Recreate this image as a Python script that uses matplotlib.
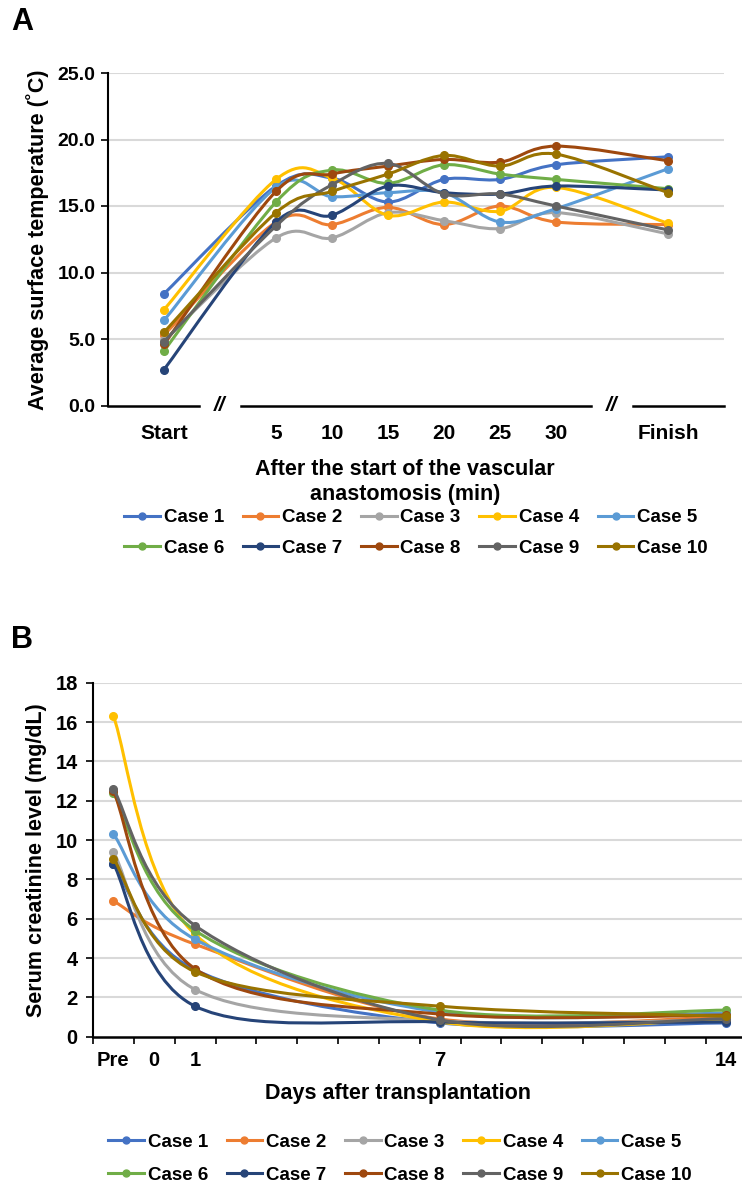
import numpy as np
import matplotlib
matplotlib.use('Agg')
import matplotlib.pyplot as plt
from matplotlib.path import Path
from matplotlib.patches import PathPatch
from matplotlib.lines import Line2D

plt.rcParams['font.family'] = ['Liberation Sans', 'DejaVu Sans']
plt.rcParams['font.weight'] = 'bold'
plt.rcParams['axes.labelweight'] = 'bold'

# --- DATA ---
cases = ['Case 1', 'Case 2', 'Case 3', 'Case 4', 'Case 5',
         'Case 6', 'Case 7', 'Case 8', 'Case 9', 'Case 10']
colors = ['#4472C4', '#ED7D31', '#A5A5A5', '#FFC000', '#5B9BD5',
          '#70AD47', '#264478', '#9E480E', '#636363', '#997300']

# panel A: categories on the x axis ('//' = axis break)
cats_a = ['Start', '//', '5', '10', '15', '20', '25', '30', '//', 'Finish']
times_a = ['Start', '5', '10', '15', '20', '25', '30', 'Finish']
temp = [
    [8.4, 16.5, 17.1, 15.3, 17.0, 17.0, 18.1, 18.7],   # case 1
    [5.3, 13.8, 13.6, 14.9, 13.6, 15.0, 13.8, 13.6],   # case 2
    [4.9, 12.6, 12.6, 14.5, 13.9, 13.3, 14.5, 12.9],   # case 3
    [7.2, 17.0, 17.1, 14.3, 15.3, 14.6, 16.4, 13.7],   # case 4
    [6.4, 16.4, 15.7, 16.0, 16.0, 13.8, 14.8, 17.8],   # case 5
    [4.1, 15.3, 17.7, 16.7, 18.1, 17.4, 17.0, 16.3],   # case 6
    [2.7, 13.8, 14.3, 16.5, 16.0, 15.9, 16.5, 16.2],   # case 7
    [4.6, 16.1, 17.4, 18.0, 18.5, 18.3, 19.5, 18.4],   # case 8
    [4.8, 13.5, 16.6, 18.2, 15.9, 15.9, 15.0, 13.2],   # case 9
    [5.5, 14.5, 16.1, 17.4, 18.8, 18.0, 18.9, 16.0],   # case 10
]

# panel B: days after transplantation
cats_b = ['Pre', '0', '1', '2', '3', '4', '5', '6', '7',
          '8', '9', '10', '11', '12', '13', '14']
labels_b = ['Pre', '0', '1', '', '', '', '', '', '7',
            '', '', '', '', '', '', '14']
days_b = ['Pre', '1', '7', '14']
creat = [
    [8.8, 3.4, 0.7, 0.7],    # case 1
    [6.9, 4.7, 0.9, 1.0],    # case 2
    [9.4, 2.4, 0.8, 0.85],   # case 3
    [16.3, 5.2, 0.75, 0.9],  # case 4
    [10.3, 4.95, 1.25, 1.2], # case 5
    [12.4, 5.4, 1.35, 1.35], # case 6
    [8.8, 1.55, 0.75, 0.75], # case 7
    [12.5, 3.45, 1.15, 1.1], # case 8
    [12.6, 5.65, 0.85, 0.92],# case 9
    [9.05, 3.3, 1.55, 1.05], # case 10
]

W, H = 742, 1195
fig = plt.figure(figsize=(W / 100, H / 100), dpi=100)


def smooth_path(xs, ys):
    # excel-style smoothed line (bezier through the points)
    pts = np.column_stack([xs, ys]).astype(float)
    n = len(pts)
    verts = [pts[0]]
    codes = [Path.MOVETO]
    for i in range(n - 1):
        p0 = pts[i - 1] if i > 0 else pts[i]
        p1, p2 = pts[i], pts[i + 1]
        p3 = pts[i + 2] if i + 2 < n else pts[i + 1]
        verts += [p1 + (p2 - p0) / 6, p2 - (p3 - p1) / 6, p2]
        codes += [Path.CURVE4] * 3
    return Path(verts, codes)


def draw_series(ax, xs, ys, color, z):
    ax.add_patch(PathPatch(smooth_path(xs, ys), fill=False, lw=2.2,
                           edgecolor=color, zorder=z, capstyle='round'))
    ax.plot(xs, ys, 'o', ms=5.5, color=color, zorder=z + 0.5)


def add_legend(ax, cx, cy, spacing):
    handles = [Line2D([], [], color=c, lw=2.2, marker='o', ms=5) for c in colors]
    order = [0, 5, 1, 6, 2, 7, 3, 8, 4, 9]
    ax.legend([handles[i] for i in order], [cases[i] for i in order],
              ncol=5, loc='center', bbox_to_anchor=(cx / W, 1 - cy / H),
              bbox_transform=fig.transFigure, frameon=False, fontsize=13.5,
              handlelength=1.9, handletextpad=0.2, columnspacing=1.0,
              labelspacing=spacing)


GRID = '#D9D9D9'

# --- PANEL A ---
axA = fig.add_axes([108 / W, 1 - 405.5 / H, (724 - 108) / W, 332.5 / H])
xpos_a = [cats_a.index(t) for t in times_a]
for i, (ys, c) in enumerate(zip(temp, colors)):
    draw_series(axA, xpos_a, ys, c, 3 + i)

axA.set_xlim(-1, 10)
axA.set_ylim(0, 25)
axA.set_yticks(np.arange(0, 26, 5))
axA.set_yticklabels([f'{v:.1f}' for v in np.arange(0, 26, 5)])
for v in np.arange(5, 26, 5):
    axA.axhline(v, color=GRID, lw=1.5, zorder=1)
axA.set_xticks(xpos_a)
axA.set_xticklabels(times_a)
axA.tick_params(axis='x', length=0, pad=13, labelsize=15)
axA.tick_params(axis='y', length=5, width=1.2, pad=4, labelsize=14, direction='out')
for s in ['top', 'right', 'bottom']:
    axA.spines[s].set_visible(False)
axA.spines['left'].set_linewidth(1.5)
# broken x axis
for x0, x1 in [(-1, 0.62), (1.38, 7.62), (8.38, 10)]:
    axA.plot([x0, x1], [0, 0], color='black', lw=1.8, clip_on=False, zorder=20)
for k, t in enumerate(cats_a):
    if t == '//':
        axA.text(k, 0, '//', ha='center', va='center', fontsize=15,
                 fontweight='bold', fontstyle='italic')
axA.set_ylabel('Average surface temperature (˚C)', fontsize=15.5, labelpad=6)
fig.text(405 / W, 1 - 482 / H, 'After the start of the vascular\nanastomosis (min)',
         ha='center', va='center', fontsize=15.5, fontweight='bold', linespacing=1.25)
fig.text(11 / W, 1 - 22 / H, 'A', fontsize=22, fontweight='bold', va='center')
add_legend(axA, 416, 533, 0.7)

# --- PANEL B ---
axB = fig.add_axes([93 / W, 1 - 1036.7 / H, (746.5 - 93) / W, 354 / H])
xpos_b = [cats_b.index(d) for d in days_b]
for i, (ys, c) in enumerate(zip(creat, colors)):
    draw_series(axB, xpos_b, ys, c, 3 + i)

axB.set_xlim(-0.5, len(cats_b) - 0.5)
axB.set_ylim(0, 18)
axB.set_yticks(np.arange(0, 19, 2))
for v in np.arange(2, 19, 2):
    axB.axhline(v, color=GRID, lw=1.5, zorder=1)
axB.set_xticks(range(len(cats_b)))
axB.set_xticklabels(labels_b)
axB.set_xticks(np.arange(-0.5, len(cats_b), 1), minor=True)
axB.tick_params(axis='x', which='major', length=0, pad=10, labelsize=14.5)
axB.tick_params(axis='x', which='minor', length=5, width=1.2, direction='out')
axB.tick_params(axis='y', length=5, width=1.2, pad=6, labelsize=14.5, direction='out')
for s in ['top', 'right']:
    axB.spines[s].set_visible(False)
axB.spines['left'].set_linewidth(1.5)
axB.spines['bottom'].set_linewidth(1.8)
axB.set_ylabel('Serum creatinine level (mg/dL)', fontsize=15.5, labelpad=6)
fig.text(398 / W, 1 - 1093 / H, 'Days after transplantation',
         ha='center', va='center', fontsize=15.5, fontweight='bold')
fig.text(11 / W, 1 - 640 / H, 'B', fontsize=22, fontweight='bold', va='center')
add_legend(axB, 400, 1158.5, 0.85)

fig.savefig('out.png', dpi=100)
